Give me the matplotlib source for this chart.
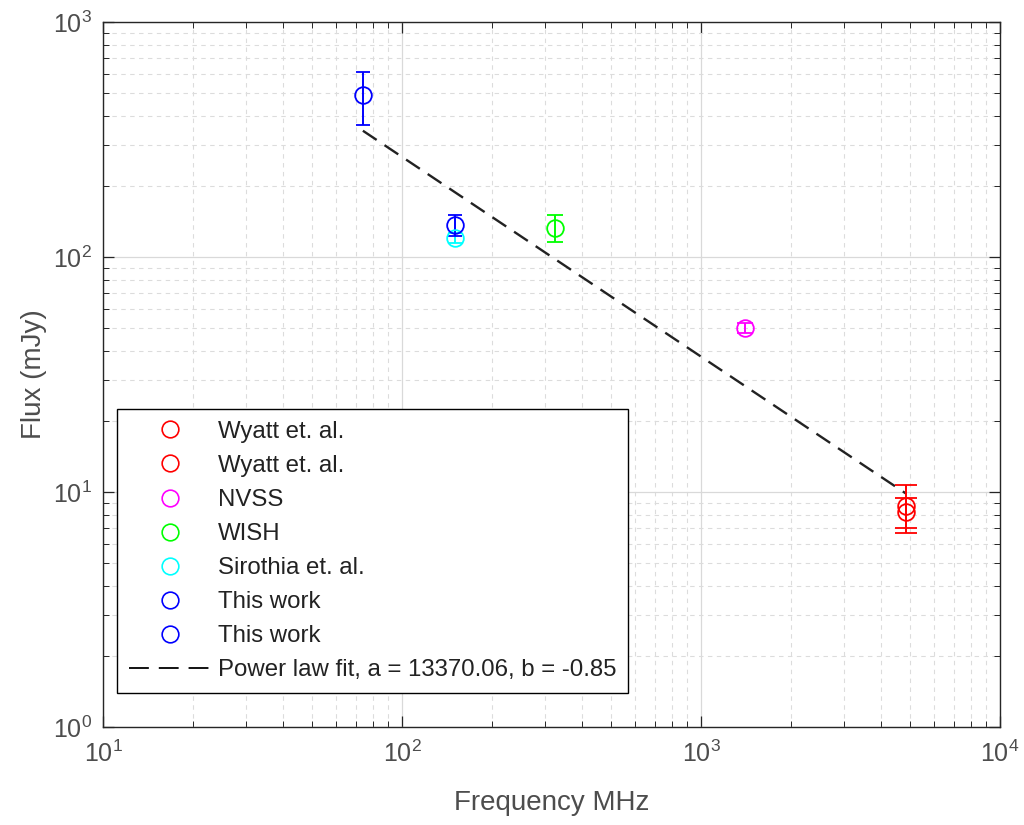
import numpy as np
import matplotlib
matplotlib.use("Agg")
import matplotlib.pyplot as plt
from matplotlib.lines import Line2D

plt.rcParams['font.family'] = ['Liberation Sans', 'DejaVu Sans']
plt.rcParams['mathtext.fontset'] = 'custom'
plt.rcParams['mathtext.rm'] = 'Liberation Sans'
plt.rcParams['mathtext.default'] = 'regular'

# ---- data ----
labels = ["Wyatt et. al.", "Wyatt et. al.", "NVSS", "WISH", "Sirothia et. al.", "This work", "This work"]
freqs = [4850, 4850, 1400, 325, 150, 150, 74]
fluxes = [8.7, 8.2, 50, 133, 121, 137, 490]
errors = [2.0, 1.2, 2.5, 17.5, 6, 14, 125]
colors = ["#ff0000", "#ff0000", "#ff00ff", "#00ff00", "#00ffff", "#0000ff", "#0000ff"]
capsizes = [8, 8, 5.5, 6, 5, 5, 5]
fit_a = 13370.06
fit_b = -0.85
fit_range = [74, 4850]

fig = plt.figure(figsize=(10.24, 8.25), dpi=100)
ax = fig.add_axes([103/1024, 1-727/825, 897/1024, 705/825])
ax.set_xscale('log')
ax.set_yscale('log')
ax.set_xlim(10, 1e4)
ax.set_ylim(1, 1e3)

ax.grid(True, which='major', color='#d9d9d9', linestyle='-', linewidth=0.9)
ax.grid(True, which='minor', color='#dcdcdc', linestyle=(0, (4, 4)), linewidth=0.8)
ax.set_axisbelow(True)

for f, v, e, c, cs in zip(freqs, fluxes, errors, colors, capsizes):
    ax.errorbar([f], [v], yerr=[e], fmt='o', mfc='none', mec=c, ecolor=c,
                ms=12, mew=1.3, elinewidth=1.4, capsize=cs, capthick=1.4, zorder=3)

xf = np.array(fit_range, dtype=float)
xf = np.logspace(np.log10(xf[0]), np.log10(xf[1]), 50)
ax.plot(xf, fit_a * xf ** fit_b, color='#222222', linestyle=(0, (7, 4)), linewidth=1.7, zorder=2)

handles = [Line2D([], [], marker='o', ls='none', mfc='none', mec=c, ms=12, mew=1.2) for c in colors]
handles.append(Line2D([], [], color='black', linestyle=(0, (11, 5.5)), linewidth=1.3))
leg_labels = labels + ["Power law fit, a = %.2f, b = %.2f" % (fit_a, fit_b)]
leg = ax.legend(handles, leg_labels, loc='lower left', bbox_to_anchor=(14/897, 34/705),
                borderaxespad=0, fontsize=17.3, frameon=True, fancybox=False,
                edgecolor='black', framealpha=1, handlelength=3.4, handletextpad=0.3,
                labelspacing=0.5, borderpad=0.5)
leg.get_frame().set_linewidth(1.0)
for t in leg.get_texts():
    t.set_color('#222222')

gray = '#262626'
for s in ax.spines.values():
    s.set_color(gray)
    s.set_linewidth(1.0)
ax.tick_params(which='both', direction='in', top=True, right=True, colors=gray, labelcolor='#4d4d4d')
ax.tick_params(which='major', length=8, width=0.9, labelsize=18)
ax.tick_params(which='minor', length=4, width=0.7)
ax.tick_params(axis='x', pad=10)
ax.tick_params(axis='y', pad=8)

ax.set_xlabel("Frequency MHz", fontsize=20, color='#4d4d4d', labelpad=16)
ax.set_ylabel("Flux (mJy)", fontsize=20, color='#4d4d4d', labelpad=4)

fig.savefig("out.png", dpi=100)
